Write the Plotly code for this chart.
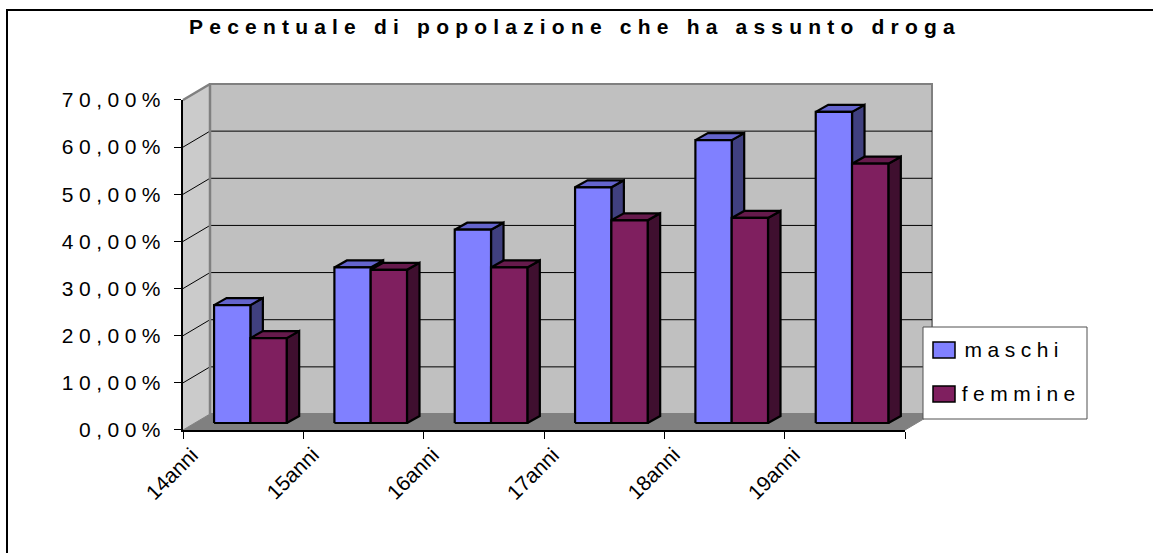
import plotly.graph_objects as go

# ---------------- data ----------------
categories = ["14anni", "15anni", "16anni", "17anni", "18anni", "19anni"]
maschi = [25.0, 33.0, 41.0, 50.0, 60.0, 66.0]
femmine = [18.0, 32.5, 33.0, 43.0, 43.5, 55.0]
series_names = ["maschi", "femmine"]
y_tickvals = [0, 10, 20, 30, 40, 50, 60, 70]
y_ticktext = ["0,00%", "10,00%", "20,00%", "30,00%", "40,00%", "50,00%", "60,00%", "70,00%"]
title_text = "Pecentuale di popolazione che ha assunto droga"

# ---------------- geometry (pixels -> data units) ----------------
W, H = 1153, 553
X0PX, CATPX = 183.0, 120.333      # front x-axis origin and pixels per category
Y0PX, UPX = 430.0, 4.7143         # front y-axis origin and pixels per percent point
YMAX = 70

def px2x(p):
    return (p - X0PX) / CATPX

def px2y(p):
    return (Y0PX - p) / UPX

WDX, WDY = 27 / CATPX, 16 / UPX           # wall depth offset
BW = 36.3 / CATPX                          # bar width
PAIR_SHIFT = 7.2 / CATPX                   # pair centre shift
BDX, BDY = 12.5 / CATPX, 7 / UPX           # bar depth offset
BASE = 7 / UPX                             # bar base raised (bars sit inside the floor)
NCAT = len(categories)

colors = {
    "maschi": {"front": "#8080FF", "top": "#6464CC", "side": "#40407F"},
    "femmine": {"front": "#7F1F5F", "top": "#661A4C", "side": "#3F0F2F"},
}

fig = go.Figure()

def poly(xs, ys, fill, line_color, line_width, name=""):
    fig.add_trace(go.Scatter(
        x=xs, y=ys, mode="lines", fill="toself", fillcolor=fill,
        line=dict(color=line_color, width=line_width),
        hoverinfo="skip", showlegend=False, name=name))

def line(xs, ys, color, width):
    fig.add_trace(go.Scatter(
        x=xs, y=ys, mode="lines", line=dict(color=color, width=width),
        hoverinfo="skip", showlegend=False))

# left wall
poly([0, WDX, WDX, 0, 0], [0, WDY, YMAX + WDY, YMAX, 0], "#CBCBCB", "rgba(0,0,0,0)", 0)
# back wall
poly([WDX, NCAT + WDX, NCAT + WDX, WDX, WDX],
     [WDY, WDY, YMAX + WDY, YMAX + WDY, WDY], "#C0C0C0", "#808080", 2)
# floor
poly([0, NCAT, NCAT + WDX, WDX, 0], [0, 0, WDY, WDY, 0], "#808080", "#808080", 1)

# grid lines (back wall + left wall diagonals)
gx, gy = [], []
for v in y_tickvals[1:-1]:
    gx += [0, WDX, NCAT + WDX, None]
    gy += [v, v + WDY, v + WDY, None]
line(gx, gy, "#000000", 1)
# top edge of left wall and left edge of back wall
line([0, WDX, WDX], [YMAX, YMAX + WDY, WDY], "#808080", 2.5)

# ---------------- 3D bars ----------------
pair_center = [i + 0.5 + PAIR_SHIFT for i in range(NCAT)]
for s_idx, (name, vals) in enumerate(zip(series_names, [maschi, femmine])):
    c = colors[name]
    fx, fy, tx, ty, sx, sy = [], [], [], [], [], []
    for i, v in enumerate(vals):
        xl = pair_center[i] - BW + s_idx * BW
        xr = xl + BW
        b, t = BASE, BASE + v
        fx += [xl, xr, xr, xl, xl, None]
        fy += [b, b, t, t, b, None]
        tx += [xl, xr, xr + BDX, xl + BDX, xl, None]
        ty += [t, t, t + BDY, t + BDY, t, None]
        sx += [xr, xr + BDX, xr + BDX, xr, xr, None]
        sy += [b, b + BDY, t + BDY, t, b, None]
    poly(sx, sy, c["side"], "#000000", 2.2, name)
    poly(tx, ty, c["top"], "#000000", 2.2, name)
    poly(fx, fy, c["front"], "#000000", 2.2, name)

# dummy trace for the front-axes subplot
fig.add_trace(go.Scatter(x=[None], y=[None], xaxis="x2", yaxis="y2",
                         showlegend=False, hoverinfo="skip"))

FONT = "Liberation Sans, Arial, sans-serif"

# category labels (rotated)
for i, cat in enumerate(categories):
    fig.add_annotation(x=i + 22 / CATPX, y=px2y(440), xref="x", yref="y",
                       text=cat, textangle=-45, showarrow=False,
                       xanchor="right", yanchor="top",
                       font=dict(family=FONT, size=21, color="#000000"))

# legend (drawn)
fig.add_shape(type="rect", xref="x", yref="y",
              x0=px2x(923), x1=px2x(1087), y0=px2y(419), y1=px2y(327),
              fillcolor="#FFFFFF", line=dict(color="#505050", width=1))
legend_text_center = [1014, 1021]
for k, name in enumerate(series_names):
    yc = 350 + 44 * k
    fig.add_shape(type="rect", xref="x", yref="y",
                  x0=px2x(933), x1=px2x(955), y0=px2y(yc + 8), y1=px2y(yc - 8),
                  fillcolor=colors[name]["front"], line=dict(color="#000000", width=1.5))
    fig.add_annotation(x=px2x(legend_text_center[k]), y=px2y(yc - 1), xref="x", yref="y",
                       text=name, showarrow=False, xanchor="center", yanchor="middle",
                       font=dict(family=FONT, size=21, color="#000000"))

# outer chart border (top and left visible)
fig.add_shape(type="rect", xref="paper", yref="paper",
              x0=7 / W, x1=1.02, y0=-0.02, y1=1 - 10 / H,
              line=dict(color="#000000", width=2), fillcolor="rgba(0,0,0,0)")

fig.update_layout(
    width=W, height=H,
    margin=dict(l=0, r=0, t=0, b=0, autoexpand=False),
    paper_bgcolor="#FFFFFF", plot_bgcolor="rgba(0,0,0,0)",
    showlegend=False,
    title=dict(text=title_text, x=575 / W, xanchor="center",
               y=1 - 27 / H, yanchor="middle",
               font=dict(family=FONT, size=21, color="#000000", weight="bold")),
    xaxis=dict(domain=[0, 1], range=[px2x(0), px2x(W)], visible=False, fixedrange=True),
    yaxis=dict(domain=[0, 1], range=[px2y(H), px2y(0)], visible=False, fixedrange=True),
    xaxis2=dict(domain=[X0PX / W, (X0PX + NCAT * CATPX) / W], anchor="y2",
                range=[0, NCAT], tickvals=list(range(NCAT + 1)),
                showticklabels=False, ticks="outside", ticklen=7, tickcolor="#000000",
                showline=True, linecolor="#000000", linewidth=1.5,
                showgrid=False, zeroline=False, fixedrange=True, automargin=False),
    yaxis2=dict(domain=[(H - Y0PX) / H, (H - (Y0PX - YMAX * UPX)) / H], anchor="x2",
                range=[0, YMAX], tickvals=y_tickvals, ticktext=y_ticktext,
                ticks="outside", ticklen=7, tickcolor="#000000",
                tickfont=dict(family=FONT, size=21, color="#000000"),
                ticklabelstandoff=4, automargin=False,
                showline=True, linecolor="#000000", linewidth=1.5,
                showgrid=False, zeroline=False, fixedrange=True),
)

post = """
document.documentElement.style.margin = '0';
document.documentElement.style.overflow = 'hidden';
document.body.style.margin = '0';
document.body.style.padding = '0';
document.body.style.overflow = 'hidden';
var gd = document.getElementById('{plot_id}');
function spaceText(){
  gd.querySelectorAll('text').forEach(function(t){
    var s = t.textContent || '';
    if (/anni$/.test(s)) return;
    if (s.indexOf('Pecentuale') === 0) { t.style.letterSpacing = '6.2px'; }
    else { t.style.letterSpacing = '5.5px'; }
  });
}
spaceText();
if (gd.on) { gd.on('plotly_afterplot', spaceText); }
"""

fig.write_html("out.html", post_script=post, config={"displayModeBar": False})
